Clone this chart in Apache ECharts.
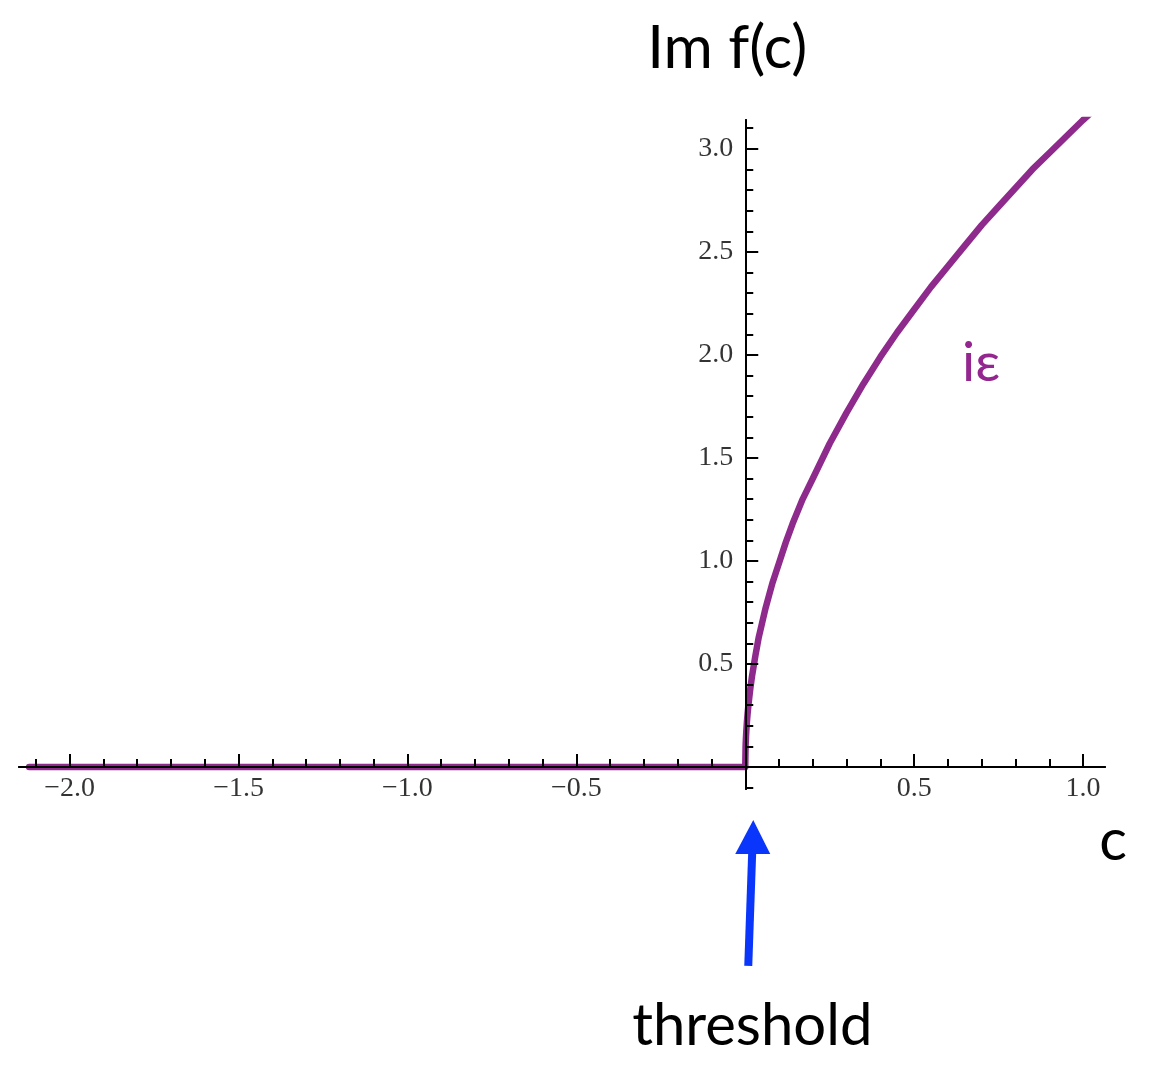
<!DOCTYPE html>
<html>
<head>
<meta charset="utf-8">
<title>Im f(c)</title>
<script src="https://cdn.jsdelivr.net/npm/echarts@6/dist/echarts.min.js"></script>
<style>
  html, body { margin: 0; padding: 0; background: #ffffff; }
  #chart { width: 1149px; height: 1066px; }
</style>
</head>
<body>
<div id="chart"></div>
<script>
// Imaginary part of f(c): zero below threshold, rising like a square root above it.
const cValues  = [-2.12, -1.0, 0, 0.001, 0.002, 0.003, 0.005, 0.007, 0.01, 0.015, 0.02, 0.03,
                  0.04, 0.05, 0.06, 0.07, 0.08, 0.09, 0.10, 0.12, 0.14, 0.17, 0.20, 0.25,
                  0.30, 0.35, 0.40, 0.45, 0.50, 0.55, 0.60, 0.65, 0.70, 0.75, 0.80, 0.85,
                  0.90, 0.95, 1.00, 1.02];
const imValues = [0, 0, 0, 0.10, 0.14, 0.17, 0.22, 0.26, 0.31, 0.38, 0.44, 0.54,
                  0.63, 0.70, 0.77, 0.83, 0.89, 0.94, 0.99, 1.09, 1.18, 1.30, 1.40, 1.57,
                  1.72, 1.86, 1.99, 2.11, 2.22, 2.33, 2.43, 2.53, 2.63, 2.72, 2.81, 2.90,
                  2.98, 3.06, 3.14, 3.17];

// Tick positions
const xMajorTicks = [-2.0, -1.5, -1.0, -0.5, 0.5, 1.0];
const xMinorTicks = [-2.1, -2.0, -1.9, -1.8, -1.7, -1.6, -1.5, -1.4, -1.3, -1.2, -1.1, -1.0,
                     -0.9, -0.8, -0.7, -0.6, -0.5, -0.4, -0.3, -0.2, -0.1,
                     0.1, 0.2, 0.3, 0.4, 0.5, 0.6, 0.7, 0.8, 0.9, 1.0];
const yMajorTicks = [0.5, 1.0, 1.5, 2.0, 2.5, 3.0];
const yMinorTicks = [-0.1, 0.1, 0.2, 0.3, 0.4, 0.5, 0.6, 0.7, 0.8, 0.9, 1.0, 1.1, 1.2, 1.3, 1.4,
                     1.5, 1.6, 1.7, 1.8, 1.9, 2.0, 2.1, 2.2, 2.3, 2.4, 2.5, 2.6, 2.7, 2.8, 2.9,
                     3.0, 3.1];

const X_MIN = -2.15, X_MAX = 1.065;
const Y_MIN = -0.107, Y_MAX = 3.14;

const curveColor = '#8f2a8d';
const arrowColor = '#0a36fb';
const tickFont = '"Liberation Serif", "Times New Roman", serif';
const textFont = 'Lato, "Open Sans", sans-serif';

const fmt = v => (v < 0 ? '\u2212' + Math.abs(v).toFixed(1) : v.toFixed(1));

const axisLine = { onZero: true, lineStyle: { color: '#000', width: 2 } };
const tickLabelStyle = { fontFamily: tickFont, fontSize: 28, color: '#000' };

// Each axis is drawn twice: once for the long ticks at 0.5 steps, once for the short ticks at 0.1 steps.
function axisPair(majors, minors, min, max, pos) {
  const base = { type: 'value', position: pos, min: min, max: max, z: 3,
                 axisLine: axisLine, axisLabel: { show: false }, splitLine: { show: false } };
  return [
    Object.assign({}, base, {
      axisTick: { inside: true, length: 13, customValues: majors, lineStyle: { color: '#000', width: 2 } }
    }),
    Object.assign({}, base, {
      axisTick: { inside: true, length: 8, customValues: minors, lineStyle: { color: '#000', width: 2 } }
    })
  ];
}

const chart = echarts.init(document.getElementById('chart'), null, { renderer: 'canvas' });

chart.setOption({
  animation: false,
  backgroundColor: '#ffffff',
  grid: { left: 19, right: 44, top: 120, bottom: 277, containLabel: false, outerBoundsMode: 'none' },
  xAxis: axisPair(xMajorTicks, xMinorTicks, X_MIN, X_MAX, 'bottom'),
  yAxis: axisPair(yMajorTicks, yMinorTicks, Y_MIN, Y_MAX, 'left'),
  series: [
    {
      name: 'Im f(c)',
      type: 'line',
      xAxisIndex: 0,
      yAxisIndex: 0,
      data: cValues.map((c, i) => [c, imValues[i]]),
      showSymbol: false,
      smooth: false,
      clip: true,
      z: 2,
      lineStyle: { color: curveColor, width: 6.5, cap: 'round', join: 'round' }
    },
    {
      // tick labels along the c axis
      type: 'scatter', xAxisIndex: 0, yAxisIndex: 0, silent: true, clip: false,
      symbolSize: 0,
      data: xMajorTicks.map(v => [v, 0]),
      label: Object.assign({ show: true, position: 'bottom', distance: 8,
                             formatter: p => fmt(p.value[0]) }, tickLabelStyle)
    },
    {
      // tick labels along the Im f axis
      type: 'scatter', xAxisIndex: 0, yAxisIndex: 0, silent: true, clip: false,
      symbolSize: 0,
      data: yMajorTicks.map(v => [0, v]),
      label: Object.assign({ show: true, position: 'left', distance: 12,
                             formatter: p => fmt(p.value[1]) }, tickLabelStyle)
    }
  ]
});

// Annotations placed relative to the threshold point (c = 0) on the axes.
const origin = chart.convertToPixel({ gridIndex: 0 }, [0, 0]);
const ox = origin[0], oy = origin[1];

chart.setOption({
  graphic: [
    {
      type: 'text', x: ox - 18, y: 49,
      style: { text: 'Im f(c)', font: '60px ' + textFont, fill: '#000',
               textAlign: 'center', textVerticalAlign: 'middle' }
    },
    {
      type: 'text', x: 1113, y: oy + 74,
      style: { text: 'c', font: '58px ' + textFont, fill: '#000',
               textAlign: 'center', textVerticalAlign: 'middle' }
    },
    {
      type: 'text', x: ox + 7, y: 1026,
      style: { text: 'threshold', font: '58px ' + textFont, fill: '#000',
               textAlign: 'center', textVerticalAlign: 'middle' }
    },
    {
      type: 'text', x: 981, y: 363,
      style: { text: 'i\u03b5', font: '55px ' + textFont, fill: '#93278f',
               textAlign: 'center', textVerticalAlign: 'middle' }
    },
    {
      type: 'line',
      shape: { x1: ox + 3, y1: oy + 199, x2: ox + 7, y2: oy + 84 },
      style: { stroke: arrowColor, lineWidth: 8 }
    },
    {
      type: 'polygon',
      shape: { points: [[ox + 8, oy + 53], [ox - 10, oy + 87], [ox + 25, oy + 87]] },
      style: { fill: arrowColor }
    }
  ]
});
</script>
</body>
</html>
